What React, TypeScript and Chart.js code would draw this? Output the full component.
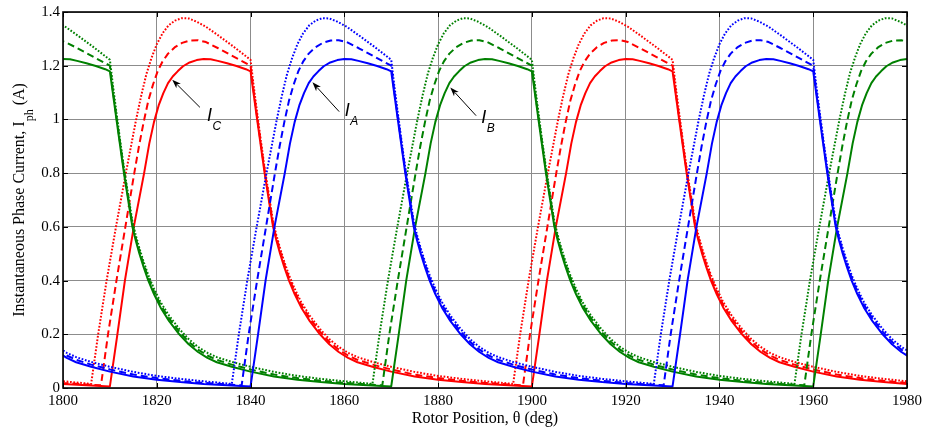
import React, { useEffect, useRef } from 'react';
import { Chart, registerables } from 'chart.js';

Chart.register(...registerables);

// ---- axes ----
const xMin = 1800;
const xMax = 1980;
const xTickValues = [1800, 1820, 1840, 1860, 1880, 1900, 1920, 1940, 1960, 1980];
const yMin = 0;
const yMax = 1.4;
const yTickValues = [0, 0.2, 0.4, 0.6, 0.8, 1, 1.2, 1.4];
const yTickLabels = ['0', '0.2', '0.4', '0.6', '0.8', '1', '1.2', '1.4'];

// ---- phases ----
const phaseNames = ['A', 'B', 'C'];
const phaseRiseAngle = [1840, 1870, 1810]; // solid-curve turn-on angle (deg)
const strokePeriod = 90; // deg
const periodShifts = [-1, 0, 1];

// ---- one period of each waveform, angle offset from solid turn-on (deg) ----
const solidOffset = [0, 1.6, 3.2, 5.1, 7.3, 8.4, 9.4, 10.4, 11.4, 12.4, 13.4, 14.5, 15.6, 17, 18.5, 20, 21.5, 23, 25, 27, 29, 30,
  30.7, 31.4, 32.2, 33.0, 33.9, 34.8, 35.5, 36.3, 37.2, 38.2, 39.4, 40.8, 42.6, 44.8, 46.8, 48.8, 50.8, 52.8, 56, 60, 65, 70, 75, 80, 85, 90];
const solidCurrent = [0.006, 0.2, 0.4, 0.6, 0.8, 0.91, 0.99, 1.052, 1.098, 1.135, 1.16, 1.18, 1.198, 1.212, 1.221, 1.225, 1.224, 1.218, 1.209, 1.199, 1.187, 1.179,
  1.09, 1.0, 0.9, 0.8, 0.7, 0.6, 0.55, 0.5, 0.45, 0.4, 0.35, 0.3, 0.25, 0.2, 0.163, 0.134, 0.112, 0.096, 0.079, 0.061, 0.043, 0.031, 0.022, 0.015, 0.01, 0.006];

const dashedOffset = [-1.9, -0.4, 1.4, 3.3, 5.2, 6.2, 7.2, 8.2, 9.2, 10.2, 11.2, 12.4, 13.8, 15.4, 17.1, 18.8, 20.5, 23.1, 26.6, 30,
  30.7, 31.4, 32.2, 33, 33.9, 34.8, 35.5, 36.3, 37.2, 38.2, 39.4, 40.8, 42.6, 44.8, 46.8, 48.8, 50.8, 52.8, 56, 60, 65, 70, 75, 80, 85, 88.1];
const dashedCurrent = [0.01, 0.2, 0.4, 0.6, 0.8, 0.9, 0.99, 1.07, 1.13, 1.18, 1.215, 1.245, 1.268, 1.285, 1.294, 1.295, 1.288, 1.265, 1.232, 1.2,
  1.1, 1.01, 0.91, 0.81, 0.71, 0.61, 0.56, 0.51, 0.46, 0.41, 0.36, 0.31, 0.26, 0.21, 0.172, 0.143, 0.121, 0.105, 0.087, 0.069, 0.05, 0.037, 0.027, 0.019, 0.013, 0.01];

const dottedOffset = [-4, -2.5, -0.7, 1.3, 3.4, 4.5, 5.6, 6.7, 7.8, 8.9, 10, 11.2, 12.5, 13.9, 15.3, 16.8, 18.5, 20.5, 23.1, 26.6, 30,
  30.7, 31.4, 32.2, 33, 33.9, 34.8, 35.5, 36.3, 37.2, 38.2, 39.4, 40.8, 42.6, 44.8, 46.8, 48.8, 50.8, 52.8, 56, 60, 65, 70, 75, 80, 85, 86];
const dottedCurrent = [0.015, 0.2, 0.4, 0.6, 0.8, 0.9, 1.0, 1.09, 1.17, 1.23, 1.28, 1.32, 1.35, 1.368, 1.377, 1.376, 1.364, 1.345, 1.313, 1.268, 1.222,
  1.12, 1.025, 0.92, 0.82, 0.72, 0.62, 0.57, 0.52, 0.47, 0.42, 0.37, 0.32, 0.27, 0.22, 0.182, 0.153, 0.131, 0.115, 0.097, 0.079, 0.06, 0.045, 0.034, 0.025, 0.017, 0.015];

// ---- annotations (data coordinates) ----
const noteLetters = ['C', 'A', 'B'];
const noteTextAngle = [1830.7, 1860.1, 1889.2];
const noteTextCurrent = [0.996, 1.011, 0.985];
const noteTailAngle = [1829.2, 1858.9, 1888.1];
const noteTailCurrent = [1.045, 1.029, 1.014];
const noteTipAngle = [1823.3, 1853.2, 1882.6];
const noteTipCurrent = [1.148, 1.138, 1.119];

const xTitle = 'Rotor Position, θ (deg)';
const yTitleMain = 'Instantaneous Phase Current, I';
const yTitleSub = 'ph';
const yTitleEnd = ' (A)';

// ---- styles ----
const phaseColors = ['#0000ff', '#008000', '#ff0000'];
const serif = "'Liberation Serif', 'Times New Roman', Times, serif";
const sans = "'Liberation Sans', Arial, Helvetica, sans-serif";

function buildSeries(rise: number, offs: number[], vals: number[]) {
  const pts: { x: number; y: number }[] = [];
  for (const k of periodShifts) {
    for (let i = 0; i < offs.length; i++) {
      const x = rise + k * strokePeriod + offs[i];
      if (pts.length && Math.abs(pts[pts.length - 1].x - x) < 1e-9) continue;
      pts.push({ x, y: vals[i] });
    }
  }
  return pts;
}

export default function App() {
  const ref = useRef<HTMLCanvasElement | null>(null);

  useEffect(() => {
    const canvas = ref.current;
    if (!canvas) return;

    const styles = [
      { offs: solidOffset, vals: solidCurrent, dash: [] as number[], name: 'solid' },
      { offs: dashedOffset, vals: dashedCurrent, dash: [7, 4], name: 'dashed' },
      { offs: dottedOffset, vals: dottedCurrent, dash: [1.7, 1.7], name: 'dotted' },
    ];

    const datasets: any[] = [];
    phaseNames.forEach((p, pi) => {
      styles.forEach((s) => {
        datasets.push({
          label: `I_${p} ${s.name}`,
          data: buildSeries(phaseRiseAngle[pi], s.offs, s.vals),
          borderColor: phaseColors[pi],
          backgroundColor: phaseColors[pi],
          borderWidth: 2,
          borderDash: s.dash,
          borderCapStyle: 'butt',
          borderJoinStyle: 'round',
          pointRadius: 0,
          tension: 0,
          fill: false,
        });
      });
    });

    const overlay = {
      id: 'overlay',
      afterDatasetsDraw(chart: any) {
        const { ctx, chartArea } = chart;
        const { left, right, top, bottom } = chartArea;
        const xs = chart.scales.x;
        const ys = chart.scales.y;
        ctx.save();
        ctx.strokeStyle = '#000';
        ctx.lineWidth = 1;
        ctx.setLineDash([]);
        const tl = 5;
        ctx.beginPath();
        for (const v of xTickValues) {
          const px = Math.round(xs.getPixelForValue(v)) + 0.5;
          ctx.moveTo(px, bottom);
          ctx.lineTo(px, bottom - tl);
          ctx.moveTo(px, top);
          ctx.lineTo(px, top + tl);
        }
        for (const v of yTickValues) {
          const py = Math.round(ys.getPixelForValue(v)) + 0.5;
          ctx.moveTo(left, py);
          ctx.lineTo(left + tl, py);
          ctx.moveTo(right, py);
          ctx.lineTo(right - tl, py);
        }
        ctx.stroke();
        ctx.lineWidth = 1.6;
        ctx.strokeRect(left, top, right - left, bottom - top);
        ctx.restore();
      },
      afterDraw(chart: any) {
        const { ctx, chartArea } = chart;
        const xs = chart.scales.x;
        const ys = chart.scales.y;
        ctx.save();
        ctx.fillStyle = '#000';
        ctx.strokeStyle = '#000';
        for (let i = 0; i < noteLetters.length; i++) {
          const tx = xs.getPixelForValue(noteTailAngle[i]);
          const ty = ys.getPixelForValue(noteTailCurrent[i]);
          const hx = xs.getPixelForValue(noteTipAngle[i]);
          const hy = ys.getPixelForValue(noteTipCurrent[i]);
          const ang = Math.atan2(hy - ty, hx - tx);
          const L = 9;
          const W = 3.2;
          const bx = hx - L * Math.cos(ang);
          const by = hy - L * Math.sin(ang);
          ctx.lineWidth = 1;
          ctx.beginPath();
          ctx.moveTo(tx, ty);
          ctx.lineTo(bx + 2 * Math.cos(ang), by + 2 * Math.sin(ang));
          ctx.stroke();
          ctx.beginPath();
          ctx.moveTo(hx, hy);
          ctx.lineTo(bx - W * Math.sin(ang), by + W * Math.cos(ang));
          ctx.lineTo(bx + 2.5 * Math.cos(ang), by + 2.5 * Math.sin(ang));
          ctx.lineTo(bx + W * Math.sin(ang), by - W * Math.cos(ang));
          ctx.closePath();
          ctx.fill();

          const lx = xs.getPixelForValue(noteTextAngle[i]);
          const ly = ys.getPixelForValue(noteTextCurrent[i]);
          ctx.textAlign = 'left';
          ctx.textBaseline = 'alphabetic';
          ctx.font = `italic 18px ${sans}`;
          ctx.fillText('I', lx, ly);
          ctx.font = `italic 12px ${sans}`;
          ctx.fillText(noteLetters[i], lx + 5.5, ly + 9);
        }

        ctx.font = `16px ${serif}`;
        ctx.textAlign = 'center';
        ctx.textBaseline = 'alphabetic';
        ctx.fillText(xTitle, (chartArea.left + chartArea.right) / 2, 423);

        const cy = (chartArea.top + chartArea.bottom) / 2;
        ctx.translate(24, cy);
        ctx.rotate(-Math.PI / 2);
        ctx.textAlign = 'left';
        ctx.font = `16px ${serif}`;
        const w1 = ctx.measureText(yTitleMain).width;
        const w3 = ctx.measureText(yTitleEnd).width;
        ctx.font = `12px ${serif}`;
        const w2 = ctx.measureText(yTitleSub).width;
        const total = w1 + w2 + w3;
        let x0 = -total / 2;
        ctx.font = `16px ${serif}`;
        ctx.fillText(yTitleMain, x0, 0);
        x0 += w1;
        ctx.font = `12px ${serif}`;
        ctx.fillText(yTitleSub, x0, 9);
        x0 += w2;
        ctx.font = `16px ${serif}`;
        ctx.fillText(yTitleEnd, x0, 0);
        ctx.restore();
      },
    };

    const chart = new Chart(canvas, {
      type: 'line',
      data: { datasets },
      options: {
        animation: false,
        responsive: false,
        maintainAspectRatio: false,
        devicePixelRatio: 1,
        layout: { padding: { top: 11, right: 18, left: 0, bottom: 0 } },
        plugins: {
          legend: { display: false },
          tooltip: { enabled: false },
          title: { display: false },
        },
        scales: {
          x: {
            type: 'linear',
            min: xMin,
            max: xMax,
            afterBuildTicks: (scale: any) => {
              scale.ticks = xTickValues.map((v) => ({ value: v }));
            },
            afterFit: (scale: any) => {
              scale.height = 44;
            },
            ticks: {
              color: '#000',
              font: { family: serif, size: 15 },
              padding: 4,
              maxRotation: 0,
              autoSkip: false,
              callback: (v: any) => String(v),
            },
            grid: { color: '#8c8c8c', lineWidth: 1, drawTicks: false },
            border: { display: false },
          },
          y: {
            type: 'linear',
            min: yMin,
            max: yMax,
            afterBuildTicks: (scale: any) => {
              scale.ticks = yTickValues.map((v) => ({ value: v }));
            },
            afterFit: (scale: any) => {
              scale.width = 63;
            },
            ticks: {
              color: '#000',
              font: { family: serif, size: 15 },
              padding: 3,
              autoSkip: false,
              callback: (v: any) => {
                const i = yTickValues.findIndex((t) => Math.abs(t - v) < 1e-6);
                return i >= 0 ? yTickLabels[i] : '';
              },
            },
            grid: { color: '#8c8c8c', lineWidth: 1, drawTicks: false },
            border: { display: false },
          },
        },
      },
      plugins: [overlay],
    } as any);

    return () => chart.destroy();
  }, []);

  return (
    <div style={{ position: 'absolute', left: 0, top: 0, width: 926, height: 432, background: '#fff' }}>
      <canvas ref={ref} width={926} height={432} style={{ width: 926, height: 432, display: 'block' }} />
    </div>
  );
}
